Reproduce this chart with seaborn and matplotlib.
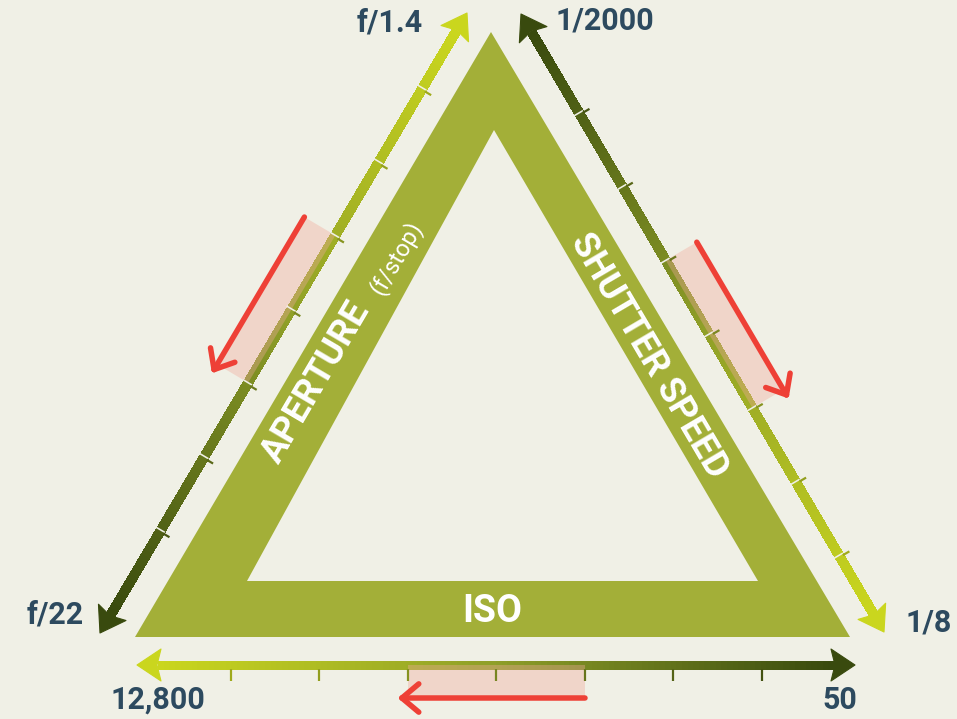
import numpy as np
import matplotlib
matplotlib.use("Agg")
import matplotlib.pyplot as plt
from matplotlib.collections import LineCollection
from matplotlib.patches import Polygon
import seaborn as sns

# Data
aperture_ends = ["f/1.4", "f/22"]      # light end, dark end
shutter_ends = ["1/2000", "1/8"]       # dark end, light end
iso_ends = ["12,800", "50"]            # light end, dark end
side_labels = ["APERTURE", "SHUTTER SPEED", "ISO"]
aperture_unit = "(f/stop)"
n_stops = 7
highlight_stops = (3, 5)               # red indicator runs between these stops

# colours
bg = "#F0F0E6"
tri_color = "#A3AF38"
light, mid, dark = "#CAD61E", "#8E9E28", "#394A0E"
label_color = "#2D4A5F"
red = "#EE4036"

sns.set_theme(style="white")
plt.rcParams["font.family"] = ["Roboto", "DejaVu Sans"]

fig = plt.figure(figsize=(9.57, 7.19), dpi=100)
fig.patch.set_facecolor(bg)
ax = fig.add_axes([0, 0, 1, 1])
ax.set_xlim(0, 957)
ax.set_ylim(719, 0)
ax.axis("off")
PX = 0.72  # points per pixel

# triangle frame
outer = np.array([[491, 32], [135, 637], [850, 637]])
inner = np.array([[494, 130], [247, 581], [758, 581]])
ax.add_patch(Polygon(outer, closed=True, fc=tri_color, ec="none", zorder=1))
ax.add_patch(Polygon(inner, closed=True, fc=bg, ec="none", zorder=2))


def unit(v):
    v = np.asarray(v, float)
    return v / np.linalg.norm(v)


def grad_arrow(p0, p1, cols, ticks, tick_side, gap=True, lw_px=9):
    p0, p1 = np.array(p0, float), np.array(p1, float)
    d = unit(p1 - p0)
    L, hw = 24, 16
    a, b = p0 + d * (L - 3), p1 - d * (L - 3)
    n = 120
    pal = sns.blend_palette(cols, n_colors=n)
    ts = np.linspace(0, 1, n + 1)
    pts = a[None, :] + (b - a)[None, :] * ts[:, None]
    # overlap segments slightly so no seams show
    ext = d * 1.2
    segs = np.stack([pts[:-1], pts[1:] + ext], axis=1)
    ax.add_collection(LineCollection(segs, colors=pal, linewidths=lw_px * PX,
                                     capstyle="butt", antialiaseds=False,
                                     zorder=4))
    for tip, dd, c in [(p0, -d, pal[0]), (p1, d, pal[-1])]:
        base = tip - dd * L
        nn = np.array([-dd[1], dd[0]])
        poly = [tip, base + hw * nn, base + dd * 4, base - hw * nn]
        ax.add_patch(Polygon(poly, closed=True, fc=c, ec=c, lw=0.8,
                             joinstyle="round", zorder=4))
    tick_pts = []
    total = np.linalg.norm(p1 - p0)
    side = np.array(tick_side, float)
    for t in ticks:
        p = p0 + d * total * t
        k = min(int(t * n), n - 1)
        c = np.array(pal[k]) * 0.85
        if gap:
            ax.plot(*np.array([p - side * 6, p + side * 4.5]).T, color=bg,
                    lw=1.6 * PX, zorder=6, solid_capstyle="butt")
            q = p + d * 1.8
            ax.plot(*np.array([q + side * 3.5, q + side * 11]).T, color=c,
                    lw=2.2 * PX, zorder=6, solid_capstyle="butt")
        else:
            ax.plot(*np.array([p + side * 4, p + side * 16]).T, color=c,
                    lw=2.2 * PX, zorder=6, solid_capstyle="butt")
        tick_pts.append(p)
    return tick_pts


def highlight(tick_pts, off_dir, off, reverse=False):
    ta, tb = tick_pts[highlight_stops[0] - 1], tick_pts[highlight_stops[1] - 1]
    off_dir = np.array(off_dir, float)
    pink = [ta, ta + off_dir * off, tb + off_dir * off, tb]
    ax.add_patch(Polygon(pink, closed=True, fc="#F0AB9B", alpha=0.38,
                         ec="none", zorder=5))
    start, end = ta + off_dir * off, tb + off_dir * off
    if reverse:
        start, end = end, start
    dd = unit(end - start)
    end = end + dd * 6
    ax.plot([start[0], end[0]], [start[1], end[1]], color=red, lw=5.5 * PX,
            solid_capstyle="round", zorder=7)
    for ang in (40, -40):
        r = np.radians(ang)
        rot = np.array([[np.cos(r), -np.sin(r)], [np.sin(r), np.cos(r)]])
        arm = end - rot @ dd * 22
        ax.plot([end[0], arm[0]], [end[1], arm[1]], color=red, lw=5.5 * PX,
                solid_capstyle="round", zorder=7)


def stop_t(first, last):
    return np.linspace(first, last, n_stops)


# Aperture: from f/1.4 (top, light) to f/22 (bottom, dark)
ap_ticks = grad_arrow((467, 13), (100, 633), [light, mid, dark],
                      stop_t(0.121, 0.834), tick_side=[0.861, 0.509])
highlight(ap_ticks, [-0.861, -0.509], 36)

# Shutter: from 1/2000 (top, dark) to 1/8 (bottom, light)
sh_ticks = grad_arrow((521, 14), (884, 632), [dark, mid, light],
                      stop_t(0.160, 0.876), tick_side=[0.863, -0.505])
highlight(sh_ticks, [0.863, -0.505], 36)

# ISO: from 12,800 (left, light) to 50 (right, dark)
iso_ticks = grad_arrow((137, 665), (855, 665), [light, mid, dark],
                       stop_t(0.131, 0.870), tick_side=[0, 1], gap=False)
highlight(iso_ticks, [0, 1], 33, reverse=True)

# side labels
ang = np.degrees(np.arctan2(605, 356))
ax.text(316, 382, side_labels[0], rotation=ang, rotation_mode="anchor",
        ha="center", va="center", color="white", fontsize=26,
        fontweight="bold", zorder=3)
ax.text(396, 258, aperture_unit, rotation=ang, rotation_mode="anchor",
        ha="center", va="center", color="white", fontsize=17,
        fontweight="normal", zorder=3)
ax.text(649, 356, side_labels[1], rotation=-ang, rotation_mode="anchor",
        ha="center", va="center", color="white", fontsize=26,
        fontweight="bold", zorder=3)
ax.text(492, 612, side_labels[2], ha="center", va="center", color="white",
        fontsize=27, fontweight="bold", zorder=3)

# end labels
end_kw = dict(color=label_color, fontsize=22, fontweight="bold",
              va="center", zorder=8)
ax.text(423, 22, aperture_ends[0], ha="right", **end_kw)
ax.text(84, 614, aperture_ends[1], ha="right", **end_kw)
ax.text(556, 20, shutter_ends[0], ha="left", **end_kw)
ax.text(905, 622, shutter_ends[1], ha="left", **end_kw)
ax.text(158, 700, iso_ends[0], ha="center", **end_kw)
ax.text(840, 700, iso_ends[1], ha="center", **end_kw)

fig.savefig("out.png", dpi=100, facecolor=bg)
